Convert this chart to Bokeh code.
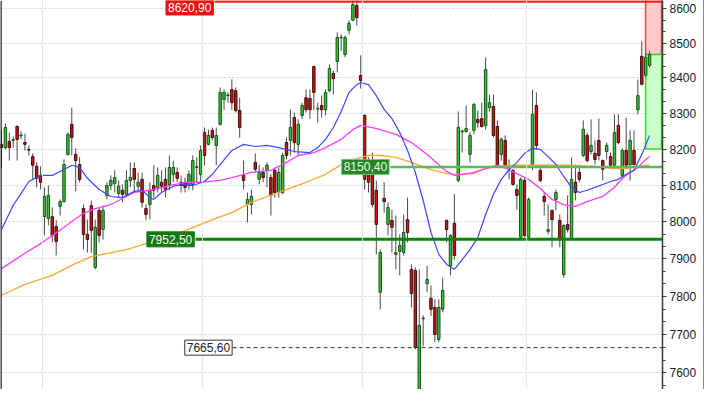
from bokeh.plotting import figure
from bokeh.models import Range1d, FixedTicker, NumeralTickFormatter, Span, Label
from bokeh.embed import file_html
from bokeh.resources import INLINE

# ---- OHLC data, one entry per session ----
open_ = [8213, 8204, 8221, 8224, 8263, 8237, 8218, 8199, 8179, 8152,
         8127, 8014, 8009, 8014, 7987, 8042, 8055, 8185, 8269, 8185,
         8157, 8036, 7966, 8044, 7877, 8031, 7979, 8072, 8099, 8105,
         8077, 8086, 8075, 8113, 8146, 8097, 8116, 8036, 8047, 8099,
         8094, 8108, 8116, 8102, 8130, 8135, 8108, 8108, 8099, 8102,
         8149, 8130, 8246, 8213, 8252, 8210, 8269, 8339, 8350, 8367,
         8364, 8308, 8127, 8047, 8047, 8163, 8116, 8135, 8141, 8121,
         8141, 8080, 8080, 8218, 8224, 8288, 8213, 8294, 8344, 8342,
         8433, 8312, 8322, 8310, 8364, 8413, 8447, 8515, 8467, 8537,
         8566, 8609, 8407, 8294, 8168, 8163, 8086, 7811, 8064, 7993,
         8004, 7912, 7920, 7917, 8006, 7872, 7869, 7543, 7741, 7834,
         7795, 7771, 7687, 7766, 8004, 7882, 7996, 8113, 8248, 8249,
         8185, 8252, 8283, 8285, 8266, 8316, 8319, 8263, 8185, 8224,
         8148, 8141, 8088, 7958, 8113, 7958, 8155, 8322, 8141, 8069,
         7974, 8031, 8061, 8004, 7858, 7993, 7952, 8108, 8135, 8182,
         8238, 8193, 8188, 8224, 8168, 8193, 8179, 8155, 8266, 8127,
         8196, 8157, 8196, 8310, 8462, 8408, 8436]
high = [8252, 8271, 8246, 8235, 8266, 8249, 8243, 8210, 8188, 8163,
        8152, 8094, 8099, 8039, 8004, 8061, 8171, 8246, 8316, 8202,
        8177, 8047, 8006, 8058, 8006, 8039, 8044, 8108, 8127, 8141,
        8113, 8102, 8141, 8163, 8163, 8135, 8135, 8047, 8108, 8155,
        8149, 8141, 8149, 8182, 8168, 8149, 8127, 8121, 8141, 8182,
        8177, 8210, 8260, 8254, 8260, 8260, 8373, 8367, 8359, 8396,
        8373, 8344, 8168, 8080, 8088, 8188, 8157, 8149, 8163, 8130,
        8149, 8149, 8190, 8232, 8311, 8302, 8283, 8330, 8367, 8367,
        8435, 8330, 8350, 8367, 8439, 8421, 8531, 8525, 8522, 8566,
        8636, 8633, 8465, 8297, 8177, 8190, 8113, 7925, 8108, 8053,
        8033, 8017, 7966, 8020, 8066, 7885, 7877, 7872, 7750, 7882,
        7829, 7792, 7792, 7850, 8006, 7966, 8075, 8305, 8255, 8322,
        8246, 8330, 8308, 8330, 8459, 8353, 8353, 8280, 8232, 8238,
        8171, 8144, 8102, 8121, 8121, 8066, 8367, 8359, 8155, 8080,
        8047, 8033, 8088, 8020, 7993, 8072, 8177, 8157, 8157, 8280,
        8246, 8283, 8224, 8285, 8171, 8218, 8190, 8297, 8297, 8202,
        8288, 8252, 8252, 8395, 8505, 8470, 8479]
low = [8149, 8199, 8168, 8204, 8168, 8227, 8196, 8182, 8116, 8094,
       8088, 7963, 7990, 7944, 7909, 8017, 8052, 8182, 8182, 8083,
       8108, 7925, 7917, 7917, 7872, 7944, 7952, 8061, 8086, 8080,
       8066, 8053, 8069, 8094, 8080, 8080, 8039, 8004, 8006, 8066,
       8080, 8080, 8066, 8086, 8108, 8108, 8080, 8080, 8088, 8086,
       8108, 8108, 8155, 8210, 8224, 8155, 8266, 8310, 8330, 8310,
       8302, 8232, 8088, 7998, 8020, 8135, 8102, 8108, 8094, 8017,
       8066, 8066, 8075, 8171, 8182, 8190, 8182, 8283, 8302, 8285,
       8308, 8274, 8288, 8294, 8359, 8353, 8416, 8478, 8459, 8525,
       8566, 8551, 8370, 8088, 8080, 8039, 7912, 7766, 8025, 7963,
       7917, 7872, 7856, 7909, 7944, 7771, 7661, 7538, 7669, 7811,
       7748, 7680, 7680, 7758, 7944, 7856, 7898, 8108, 8190, 8246,
       8163, 8241, 8260, 8260, 8254, 8305, 8232, 8149, 8168, 8149,
       8116, 8099, 8033, 7955, 7958, 7955, 8141, 8199, 8108, 8017,
       7966, 7931, 8031, 7931, 7850, 7971, 7950, 8058, 8108, 8177,
       8163, 8185, 8157, 8168, 8113, 8171, 8149, 8149, 8213, 8116,
       8149, 8113, 8155, 8297, 8379, 8402, 8430]
close = [8204, 8260, 8204, 8226, 8227, 8239, 8213, 8197, 8155, 8119,
         8108, 8069, 8072, 7963, 7947, 8055, 8157, 8241, 8232, 8168,
         8116, 7966, 7952, 7977, 7985, 7963, 8031, 8099, 8113, 8121,
         8097, 8075, 8113, 8121, 8116, 8108, 8053, 8020, 8086, 8086,
         8127, 8097, 8088, 8149, 8149, 8119, 8099, 8094, 8130, 8168,
         8151, 8196, 8182, 8238, 8232, 8238, 8359, 8359, 8352, 8330,
         8308, 8260, 8113, 8061, 8069, 8144, 8135, 8121, 8155, 8072,
         8080, 8135, 8182, 8182, 8260, 8218, 8269, 8322, 8310, 8310,
         8359, 8314, 8310, 8359, 8427, 8398, 8516, 8517, 8516, 8557,
         8612, 8574, 8393, 8116, 8108, 8047, 7993, 7917, 8055, 8039,
         7985, 7917, 7936, 7971, 7971, 7808, 7666, 7724, 7743, 7845,
         7766, 7700, 7771, 7816, 7979, 7963, 7909, 8260, 8250, 8257,
         8238, 8325, 8274, 8263, 8424, 8330, 8238, 8155, 8227, 8155,
         8150, 8102, 8072, 8116, 7963, 8061, 8297, 8210, 8113, 8055,
         7979, 8006, 8080, 7952, 7990, 7979, 8116, 8080, 8116, 8255,
         8168, 8210, 8171, 8182, 8144, 8210, 8155, 8246, 8218, 8196,
         8155, 8224, 8157, 8350, 8382, 8459, 8467]

blue_idx = [0, 3, 5, 7, 10, 13, 16, 18, 20, 22, 25, 28, 31, 34, 36, 38, 39, 41, 44, 47,
            49, 52, 54, 56, 59, 62, 65, 68, 71, 75, 79, 81, 83, 85, 87, 89, 91, 92, 94, 96,
            98, 100, 102, 104, 106, 108, 110, 112, 114, 116, 118, 120, 122, 124, 126, 128,
            130, 132, 134, 136, 138, 140, 142, 144, 146, 148, 150, 152, 154, 156, 158, 160,
            162, 164, 166]
blue_val = [7979, 8045, 8077, 8110, 8127, 8127, 8143, 8155, 8149, 8119, 8088, 8069, 8066,
            8083, 8086, 8066, 8061, 8080, 8097, 8102, 8099, 8110, 8130, 8157, 8196, 8213,
            8207, 8210, 8204, 8193, 8190, 8204, 8227, 8260, 8305, 8359, 8381, 8387, 8381,
            8350, 8311, 8285, 8246, 8196, 8135, 8058, 7971, 7912, 7885, 7872, 7898, 7925,
            7958, 8020, 8075, 8116, 8143, 8163, 8188, 8202, 8199, 8179, 8157, 8124, 8094,
            8080, 8086, 8094, 8102, 8110, 8116, 8130, 8141, 8185, 8238]
mag_idx = [0, 6, 10, 15, 18, 21, 24, 28, 30, 34, 39, 43, 47, 51, 56, 59, 64, 69, 73, 76,
           80, 83, 87, 90, 92, 95, 97, 101, 105, 109, 111, 114, 116, 118, 121, 125, 127,
           130, 132, 135, 138, 141, 144, 147, 150, 154, 157, 159, 161, 163, 165, 166]
mag_val = [7874, 7915, 7941, 7977, 8001, 8023, 8036, 8047, 8058, 8080, 8088, 8099, 8108,
           8108, 8113, 8121, 8135, 8141, 8163, 8182, 8190, 8204, 8227, 8254, 8266, 8260,
           8254, 8241, 8218, 8185, 8166, 8138, 8127, 8130, 8135, 8149, 8155, 8143, 8132,
           8116, 8091, 8061, 8047, 8042, 8055, 8069, 8094, 8119, 8135, 8149, 8171, 8179]
ora_idx = [0, 6, 13, 19, 23, 32, 37, 44, 51, 54, 59, 64, 71, 78, 83, 88, 92, 94, 97, 101,
           105, 110, 114, 117, 121, 123, 127, 131, 136, 145, 152, 157, 160, 163, 166]
ora_val = [7803, 7832, 7856, 7888, 7906, 7925, 7941, 7963, 7993, 8006, 8025, 8053, 8080,
           8108, 8130, 8163, 8177, 8182, 8182, 8177, 8163, 8143, 8132, 8130, 8132, 8143,
           8152, 8155, 8155, 8155, 8152, 8146, 8146, 8152, 8155]

# ---- marked levels ----
level_high = 8620.90
level_mid = 8150.40
level_support = 7952.50
level_low = 7665.60
box_top = 8630.0
box_bottom = 8200.0
tick_values = [7600, 7700, 7800, 7900, 8000, 8100, 8200, 8300, 8400, 8500, 8600]
minor_values = [v + d for v in [7500] + tick_values for d in (33.3, 66.7)]
month_marks = [10.5, 51.5, 92.5, 134.5]

n = len(close)
idx = list(range(n))
x_end = 169.3

p = figure(width=704, height=389, y_axis_type="log", y_axis_location="right",
           x_axis_location=None, toolbar_location=None, output_backend="svg",
           x_range=Range1d(-0.26, x_end), y_range=Range1d(7557.5, 8623.8))
p.min_border_left = 0
p.min_border_top = 0
p.min_border_bottom = 0
p.min_border_right = 42
p.outline_line_color = None
p.background_fill_color = "white"
p.border_fill_color = "white"
p.styles = {"border-right": "1px solid #8a8a8a"}

ax = p.yaxis[0]
ax.ticker = FixedTicker(ticks=tick_values, minor_ticks=minor_values)
ax.formatter = NumeralTickFormatter(format="0")
ax.axis_line_color = "#3a3a3a"
ax.axis_line_width = 1.5
ax.major_tick_in = 0
ax.major_tick_out = 4
ax.minor_tick_in = 0
ax.minor_tick_out = 3
ax.major_tick_line_color = "#3a3a3a"
ax.minor_tick_line_color = "#3a3a3a"
ax.major_label_standoff = 3
ax.major_label_text_font = "Liberation Sans"
ax.major_label_text_font_size = "12px"
ax.major_label_text_color = "#222222"

p.xgrid.visible = False
p.ygrid.grid_line_color = "#d2d2d2"
p.ygrid.grid_line_dash = "2 2"
for m in month_marks:
    p.add_layout(Span(location=m, dimension="height", line_color="#e4e4e4", line_width=1))
p.add_layout(Span(location=-0.14, dimension="height", line_color="#111111", line_width=1.5))

# distance boxes at the right end
p.quad(left=[164.96], right=[169.05], bottom=[close[-1]], top=[box_top],
       fill_color="#ffcccc", line_color="#ff4040", line_width=1.5)
p.quad(left=[164.96], right=[169.05], bottom=[box_bottom], top=[close[-1]],
       fill_color="#ccffcc", line_color="#30e030", line_width=1.5)

# candles
up = [c >= o for o, c in zip(open_, close)]
body_top = [max(o, c) for o, c in zip(open_, close)]
body_bot = [min(o, c) for o, c in zip(open_, close)]
fill = ["#2fcc2f" if u else "#d01414" for u in up]
edge = ["#1d4a1d" if u else "#3c0a0a" for u in up]
p.segment(x0=idx, y0=low, x1=idx, y1=high, line_color="#4a4a4a", line_width=1)
p.vbar(x=idx, width=0.62, top=body_top, bottom=body_bot,
       fill_color=fill, line_color=edge, line_width=1)

# moving averages
p.line(ora_idx, ora_val, line_color="#ffa630", line_width=1.3)
p.line(mag_idx, mag_val, line_color="#ff3cff", line_width=1.3)
p.line(blue_idx, blue_val, line_color="#3a48ff", line_width=1.2)

# horizontal levels
p.segment(x0=[54.6], y0=[level_high], x1=[x_end], y1=[level_high],
          line_color="#ff1a1a", line_width=2.5)
p.segment(x0=[99.6], y0=[level_mid], x1=[x_end], y1=[level_mid],
          line_color="#5cba5c", line_width=2.5)
p.segment(x0=[49.7], y0=[level_support], x1=[x_end], y1=[level_support],
          line_color="#0b820b", line_width=3)
p.segment(x0=[59.2], y0=[level_low], x1=[x_end], y1=[level_low],
          line_color="#333333", line_width=1, line_dash="4 3")


def tag(x, y, text, bg, fg, border, yoff=0):
    p.add_layout(Label(x=x, y=y, text=text, text_align="center", text_baseline="middle",
                       y_offset=yoff, text_color=fg, text_font="Liberation Sans",
                       text_font_size="12px", background_fill_color=bg,
                       border_line_color=border, border_line_width=1, padding=(2, 3)))


tag(48.2, level_high, "8620,90", "#ee1111", "white", "#ee1111", yoff=-6)
tag(93.2, level_mid, "8150,40", "#238523", "#eaffea", "#6cc46c")
tag(43.3, level_support, "7952,50", "#137a13", "white", "#137a13")
tag(53.0, level_low, "7665,60", "white", "#222222", "#333333")

open("out.html", "w").write(file_html(p, INLINE))
